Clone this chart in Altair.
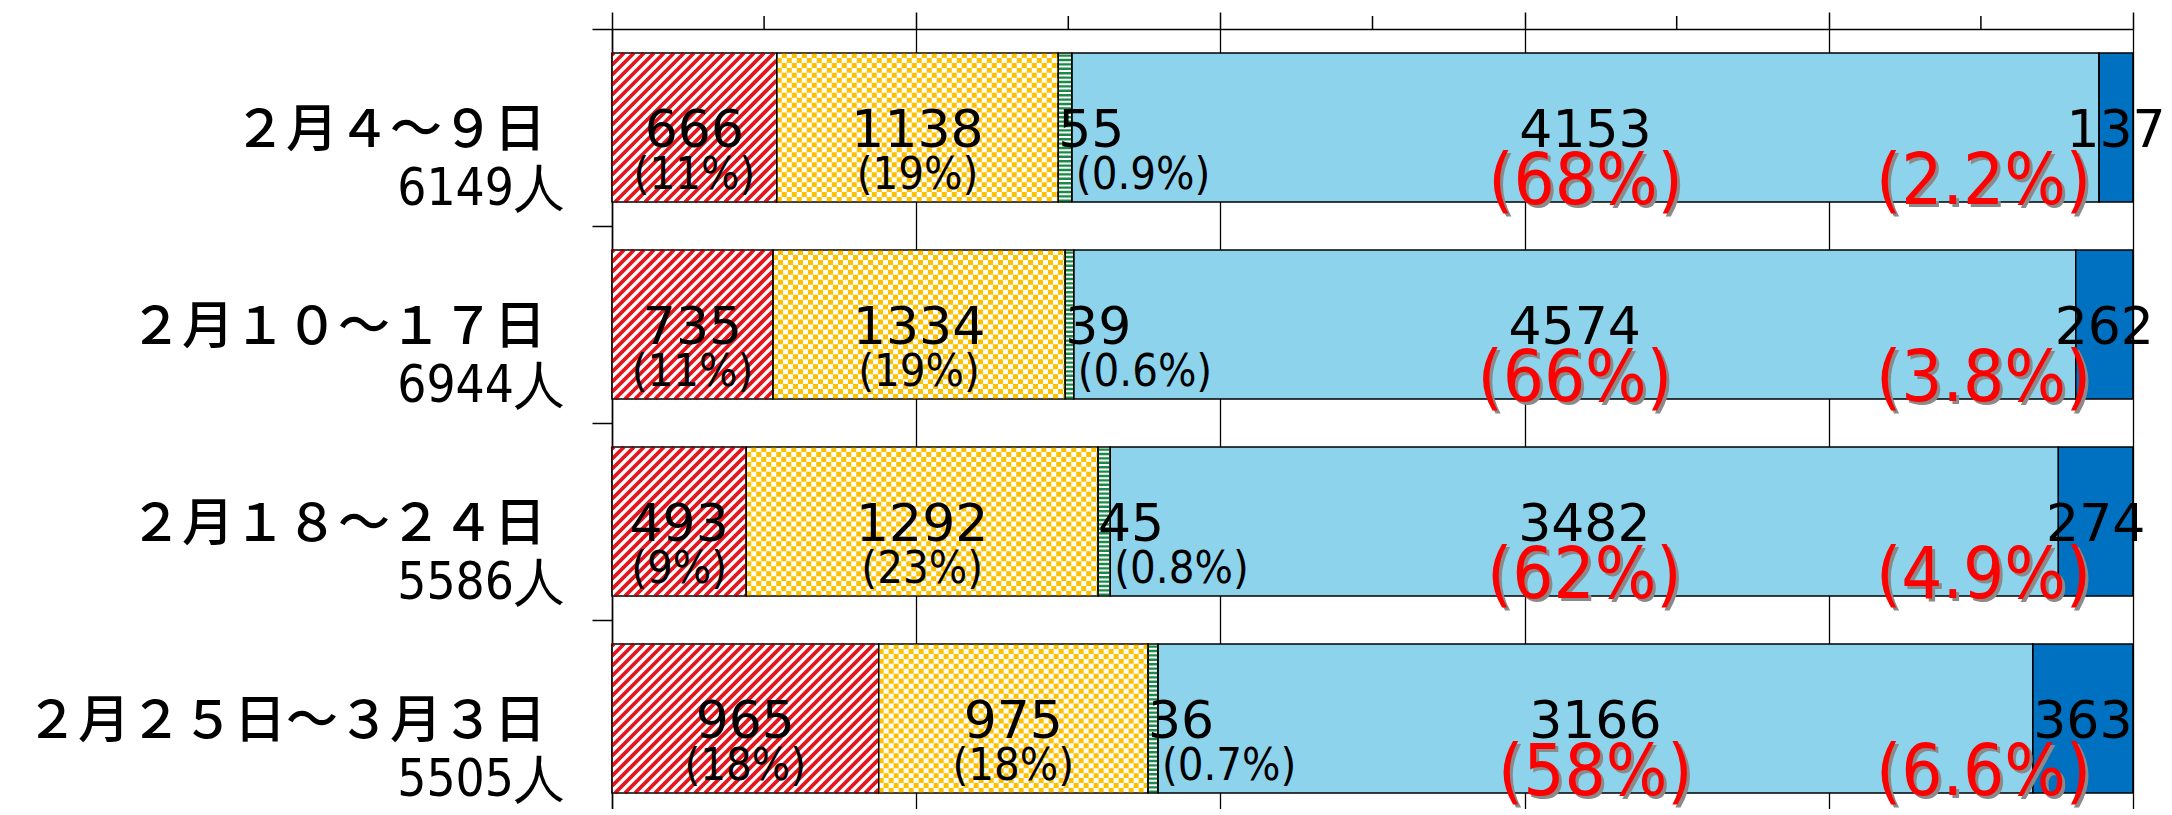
import altair as alt
import pandas as pd

# ---------------- data ----------------
periods = ["２月４～９日", "２月１０～１７日", "２月１８～２４日", "２月２５日～３月３日"]
totals = ["6149人", "6944人", "5586人", "5505人"]
seg_a = [666, 735, 493, 965]        # red hatched
seg_b = [1138, 1334, 1292, 975]     # yellow checker
seg_c = [55, 39, 45, 36]            # green stripes
seg_d = [4153, 4574, 3482, 3166]    # light blue
seg_e = [137, 262, 274, 363]        # dark blue
pct_a = ["(11%)", "(11%)", "(9%)", "(18%)"]
pct_b = ["(19%)", "(19%)", "(23%)", "(18%)"]
pct_c = ["(0.9%)", "(0.6%)", "(0.8%)", "(0.7%)"]
pct_d = ["(68%)", "(66%)", "(62%)", "(58%)"]
pct_e = ["(2.2%)", "(3.8%)", "(4.9%)", "(6.6%)"]
major_ticks = [0, 0.2, 0.4, 0.6, 0.8, 1.0]
minor_ticks = [0.1, 0.3, 0.5, 0.7, 0.9]
row_bounds = [0.5, 1.5, 2.5, 3.5]

# ---------------- geometry / style ----------------
W = 1521          # plot width px
H = 780           # plot height px
YPX = 197         # px per row
BAR = 149         # bar thickness px
half = BAR / 2 / YPX
ymin = 3.5 - H / YPX

segs = [seg_a, seg_b, seg_c, seg_d, seg_e]
pcts = [pct_a, pct_b, pct_c, pct_d, pct_e]
fills = ["#ffffff", "#ffffff", "#ffffff", "#8DD3EC", "#0070C0"]

rows = []
for i in range(4):
    tot = sum(s[i] for s in segs)
    yc = 3 - i
    cum = 0
    for k, s in enumerate(segs):
        x0 = cum / tot
        cum += s[i]
        x1 = cum / tot
        rows.append(dict(row=i, seg=k, x0=x0, x1=x1, xm=(x0 + x1) / 2, yc=yc,
                         yb=yc - half, yt=yc + half, fill=fills[k],
                         val=str(s[i]), pct=pcts[k][i], right=1.0))
bars = pd.DataFrame(rows)

# red diagonal hatch lines (derived from segment extents)
P = 10.0
hatch = []
for r in bars[bars.seg == 0].itertuples():
    w = (r.x1 - r.x0) * W
    c = -BAR + 2
    while c < w:
        vlo = max(0.0, -c)
        vhi = min(BAR, w - c)
        if vhi > vlo + 0.5:
            hatch.append(dict(xa=r.x0 + (c + vlo) / W, ya=r.yb + vlo / YPX,
                              xb=r.x0 + (c + vhi) / W, yb2=r.yb + vhi / YPX))
        c += P
hatch = pd.DataFrame(hatch)

# yellow checker rows
NCH = 30
CELL = BAR / NCH
check = []
for r in bars[bars.seg == 1].itertuples():
    for j in range(NCH):
        check.append(dict(xa=r.x0, xb=r.x1, y=r.yb + (j + 0.5) * CELL / YPX, par=j % 2))
check = pd.DataFrame(check)

# green stripes (one dashed vertical rule per segment)
green = bars[bars.seg == 2].copy()
green["sw"] = (green.x1 - green.x0) * W

XS = alt.Scale(domain=[0, 1], nice=False, zero=False)
YS = alt.Scale(domain=[ymin, 3.5], nice=False, zero=False)

x_axis = alt.Axis(orient="top", values=major_ticks, labels=False, title=None,
                  tickSize=17, tickWidth=1.5, tickColor="black",
                  domainColor="black", domainWidth=1.5,
                  grid=True, gridColor="black", gridWidth=1.3)
y_axis = alt.Axis(orient="left", values=row_bounds, labels=False, title=None, tickSize=20,
                  tickWidth=1.5, tickColor="black", domainColor="black",
                  domainWidth=1.5, grid=False)


def X(f):
    return alt.X(f"{f}:Q", scale=XS, axis=x_axis)


def Y(f):
    return alt.Y(f"{f}:Q", scale=YS, axis=y_axis)


base_bars = alt.Chart(bars).mark_bar(stroke="black", strokeWidth=1.2).encode(
    x=X("x0"), x2="x1", y=Y("yb"), y2="yt",
    fill=alt.Fill("fill:N", scale=None),
)

hatch_layer = alt.Chart(hatch).mark_rule(color="#E5151E", strokeWidth=3.8).encode(
    x=X("xa"), x2="xb", y=Y("ya"), y2="yb2",
)

check_even = alt.Chart(check).transform_filter(alt.datum.par == 0).mark_rule(
    color="#FFC000", strokeWidth=CELL, strokeDash=[5, 5]).encode(
    x=X("xa"), x2="xb", y=Y("y"),
)
check_odd = alt.Chart(check).transform_filter(alt.datum.par == 1).mark_rule(
    color="#FFC000", strokeWidth=CELL, strokeDash=[5, 5], strokeDashOffset=5).encode(
    x=X("xa"), x2="xb", y=Y("y"),
)

green_layer = alt.Chart(green).mark_rule(color="#1A8A48", strokeDash=[2.4, 2.0]).encode(
    x=X("xm"), y=Y("yb"), y2="yt",
    strokeWidth=alt.StrokeWidth("sw:Q", scale=None),
)

outline = alt.Chart(bars).mark_bar(fillOpacity=0, stroke="black", strokeWidth=1.2).encode(
    x=X("x0"), x2="x1", y=Y("yb"), y2="yt",
)

minor = alt.Chart(pd.DataFrame({"t": minor_ticks})).mark_rule(
    color="black", strokeWidth=1.5).encode(
    x=X("t"), y=alt.value(-13), y2=alt.value(0),
)

NUMFONT = "DejaVu Sans"
NARROW = "Liberation Sans Narrow, DejaVu Sans Condensed, sans-serif"


def txt(df, xfield, text, font, size, dy, align="center", color="black", dx=0):
    return alt.Chart(df).mark_text(font=font, fontSize=size, dy=dy, dx=dx, align=align,
                                   baseline="alphabetic", color=color).encode(
        x=X(xfield), y=Y("yc"), text=f"{text}:N",
    )


def sub(ks):
    return bars[bars.seg.isin(ks)]


num_center = txt(sub([0, 1, 3, 4]), "xm", "val", NUMFONT, 52, 19.5)
num_green = txt(sub([2]), "x0", "val", NUMFONT, 52, 19.5, align="left")
pct_black = txt(sub([0, 1]), "xm", "pct", NARROW, 45, 61)
pct_green = txt(sub([2]), "x1", "pct", NARROW, 45, 61, align="left", dx=4)
red_d_sh = txt(sub([3]), "xm", "pct", NARROW, 72, 79.5, color="#8a8a8a", dx=3)
red_d = txt(sub([3]), "xm", "pct", NARROW, 72, 76.5, color="#FF0000")
red_e_sh = txt(sub([4]), "right", "pct", NARROW, 72, 79.5, align="right", color="#8a8a8a", dx=-39)
red_e = txt(sub([4]), "right", "pct", NARROW, 72, 76.5, align="right", color="#FF0000", dx=-42)

cats = pd.DataFrame({"yc": [3, 2, 1, 0], "period": periods, "total": totals})
cat1 = alt.Chart(cats).mark_text(font="Noto Sans CJK JP", fontSize=52, fontWeight=500,
                                 align="right", baseline="alphabetic", dy=19.5,
                                 color="black").encode(
    x=alt.value(-66), y=Y("yc"), text="period:N")
cat2 = alt.Chart(cats).mark_text(font=NARROW, fontSize=51, align="right",
                                 baseline="alphabetic", dy=77, color="black").encode(
    x=alt.value(-47), y=Y("yc"), text="total:N")

chart = alt.layer(
    base_bars, hatch_layer, check_even, check_odd, green_layer, outline, minor,
    num_center, num_green, pct_black, pct_green,
    red_d_sh, red_d, red_e_sh, red_e, cat1, cat2,
).properties(
    width=W, height=H,
    padding={"left": 604, "top": 21, "right": 31, "bottom": 0},
    autosize=alt.AutoSizeParams(type="none"),
    background="white",
).configure_view(stroke=None)

chart.save("out.html", embed_options={"renderer": "svg", "actions": False})
